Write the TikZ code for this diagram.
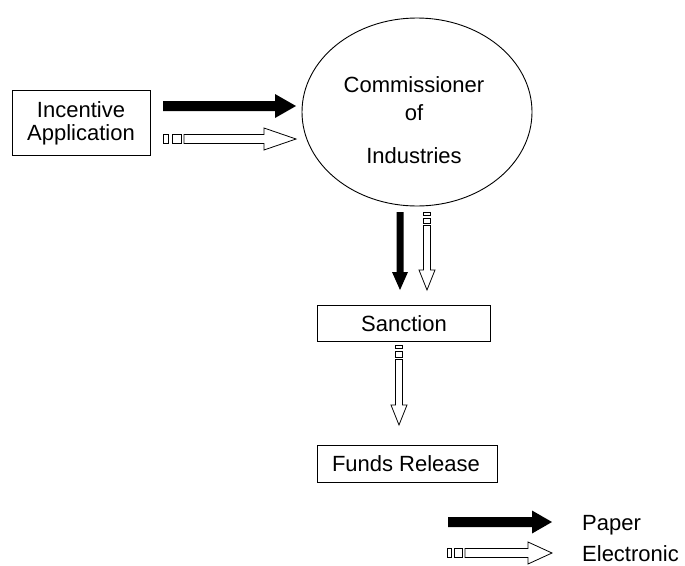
\documentclass[tikz,border=0pt]{standalone}
\usepackage{fontspec}
\setmainfont{Liberation Sans}
\usetikzlibrary{shapes.geometric}
\begin{document}
\begin{tikzpicture}[x=1pt,y=-1pt,
  every node/.style={font=\fontsize{22}{23}\selectfont, inner sep=0pt},
  boxnode/.style={draw, line width=0.9pt, minimum height=35pt},
  blockfill/.style={fill=black},
  blockhollow/.style={draw=black, fill=white, line width=0.8pt}]
\useasboundingbox (0,0) rectangle (685,565);

% ---- nodes ----
\node[draw, line width=0.9pt, minimum width=138pt, minimum height=65pt] (inc) at (81,122.5) {};
\node[anchor=base] (incA) at (81,117) {Incentive};
\node[anchor=base] (incB) at (81,140) {Application};

\node[draw, ellipse, line width=0.9pt, minimum width=230pt, minimum height=188pt] (comm) at (417,112) {};
\node[anchor=base] (c1) at (414,92) {Commissioner};
\node[anchor=base] (c2) at (414,120) {of};
\node[anchor=base] (c3) at (414,163) {Industries};

\node[boxnode, minimum width=173pt, minimum height=36pt] (sanc) at (403.5,323.5) {};
\node[anchor=base] (sancT) at (404,331) {Sanction};

\node[boxnode, minimum width=180pt, minimum height=37pt] (funds) at (407,463.5) {};
\node[anchor=base] (fundsT) at (406,471) {Funds Release};

\node[anchor=base west] (lp) at (582,530) {Paper};
\node[anchor=base west] (le) at (582,561) {Electronic};

% ---- paper arrows (solid block) ----
\fill[blockfill] (163,101) -- (275,101) -- (275,94) -- (296,106) -- (275,118) -- (275,111) -- (163,111) -- cycle;
\fill[blockfill] (448,517) -- (532,517) -- (532,510.5) -- (552,522) -- (532,533.5) -- (532,527) -- (448,527) -- cycle;
\fill[blockfill] (396.5,212) -- (403.5,212) -- (403.5,272) -- (408,272) -- (400,290) -- (392,272) -- (396.5,272) -- cycle;

% ---- electronic arrows (striped hollow block) ----
\draw[blockhollow] (163,134.5) rectangle (168.5,143.5);
\draw[blockhollow] (172,134.5) rectangle (181,143.5);
\draw[blockhollow] (184,134.5) -- (264,134.5) -- (264,128) -- (296,139) -- (264,150) -- (264,143.5) -- (184,143.5) -- cycle;
\draw[blockhollow] (447,548.5) rectangle (451.5,557.5);
\draw[blockhollow] (454.5,548.5) rectangle (462.5,557.5);
\draw[blockhollow] (465,548.5) -- (528,548.5) -- (528,542) -- (552,553) -- (528,564) -- (528,557.5) -- (465,557.5) -- cycle;
\draw[blockhollow] (423.5,212) rectangle (430.5,215.5);
\draw[blockhollow] (423.5,218) rectangle (430.5,223);
\draw[blockhollow] (423.5,225.5) -- (430.5,225.5) -- (430.5,270) -- (435,270) -- (427,290) -- (419,270) -- (423.5,270) -- cycle;
\draw[blockhollow] (395.5,345) rectangle (402.5,348.5);
\draw[blockhollow] (395.5,351) rectangle (402.5,357);
\draw[blockhollow] (395.5,359.5) -- (402.5,359.5) -- (402.5,405) -- (407,405) -- (399,425) -- (391,405) -- (395.5,405) -- cycle;
\end{tikzpicture}
\end{document}
